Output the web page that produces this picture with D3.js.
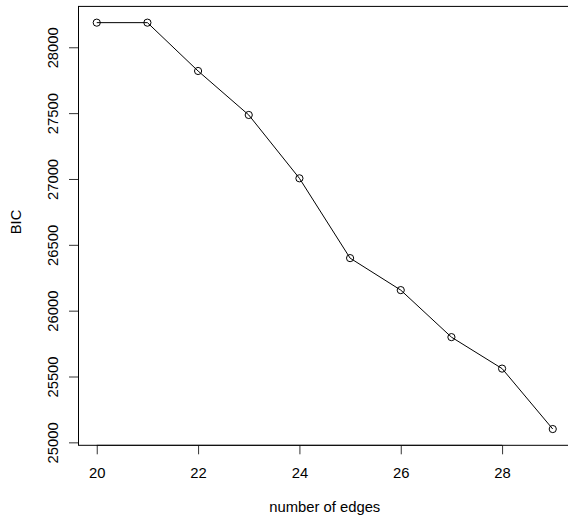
<!DOCTYPE html>
<html>
<head>
<meta charset="utf-8">
<script src="https://cdn.jsdelivr.net/npm/d3@7"></script>
<style>
  html, body { margin: 0; padding: 0; background: #fff; overflow: hidden; }
  svg { display: block; }
  text { font-family: "Liberation Sans", Arial, Helvetica, sans-serif; fill: #000; }
</style>
</head>
<body>
<script>
// BIC by number of edges
const edges = [20, 21, 22, 23, 24, 25, 26, 27, 28, 29];
const bic = [28187, 28187, 27820, 27486, 27005, 26399, 26156, 25799, 25560, 25101];
const xTicks = [20, 22, 24, 26, 28];
const yTicks = [25000, 25500, 26000, 26500, 27000, 27500, 28000];
const xLabel = "number of edges";
const yLabel = "BIC";

const W = 568, H = 523;
const plot = { left: 78.5, right: 571, top: 6.4, bottom: 445.3 };

// Base-graphics style range: data extent padded by 4% on each side
function padded(vals) {
  const [lo, hi] = d3.extent(vals);
  const d = (hi - lo) * 0.04;
  return [lo - d, hi + d];
}

const x = d3.scaleLinear().domain(padded(edges)).range([plot.left, plot.right]);
const y = d3.scaleLinear().domain(padded(bic)).range([plot.bottom, plot.top]);

const svg = d3.select("body").append("svg").attr("width", W).attr("height", H);

const fs = 14.8;

// x axis
const xAxis = svg.append("g").attr("transform", `translate(0,${plot.bottom})`)
  .call(d3.axisBottom(x).tickValues(xTicks).tickSize(9).tickPadding(13.5).tickFormat(d3.format("d")));
// y axis (labels rotated, as in base graphics)
const yAxis = svg.append("g").attr("transform", `translate(${plot.left},0)`)
  .call(d3.axisLeft(y).tickValues(yTicks).tickSize(9.5).tickFormat(d3.format("d")));

[xAxis, yAxis].forEach(g => {
  g.select(".domain").remove();
  g.selectAll(".tick line").attr("stroke", "#333").attr("stroke-width", 1);
  g.selectAll(".tick text").style("font-size", fs + "px").attr("fill", "#000");
});
xAxis.selectAll(".tick text").attr("dy", "0.71em");
yAxis.selectAll(".tick text")
  .attr("x", null)
  .attr("text-anchor", "middle")
  .attr("transform", "translate(-26,0) rotate(-90)")
  .attr("dy", "0.36em");

// axis lines spanning first to last tick
svg.append("line")
  .attr("x1", x(xTicks[0])).attr("x2", x(xTicks[xTicks.length - 1]))
  .attr("y1", plot.bottom).attr("y2", plot.bottom)
  .attr("stroke", "#333").attr("stroke-width", 1);
svg.append("line")
  .attr("x1", plot.left).attr("x2", plot.left)
  .attr("y1", y(yTicks[0])).attr("y2", y(yTicks[yTicks.length - 1]))
  .attr("stroke", "#333").attr("stroke-width", 1);

// plot box
svg.append("rect")
  .attr("x", plot.left).attr("y", plot.top)
  .attr("width", plot.right - plot.left).attr("height", plot.bottom - plot.top)
  .attr("fill", "none").attr("stroke", "#000").attr("stroke-width", 1);

// series line
const pts = edges.map((e, i) => [e, bic[i]]);
svg.append("path")
  .datum(pts)
  .attr("fill", "none").attr("stroke", "#000").attr("stroke-width", 1)
  .attr("d", d3.line().x(d => x(d[0])).y(d => y(d[1])));

// open circle markers
svg.append("g").selectAll("circle").data(pts).join("circle")
  .attr("cx", d => x(d[0])).attr("cy", d => y(d[1])).attr("r", 3.6)
  .attr("fill", "none").attr("stroke", "#000").attr("stroke-width", 1);

// axis titles
svg.append("text")
  .attr("x", (plot.left + plot.right) / 2).attr("y", 512)
  .attr("text-anchor", "middle").style("font-size", fs + "px")
  .text(xLabel);
svg.append("text")
  .attr("transform", `translate(21,222) rotate(-90)`)
  .attr("text-anchor", "middle").style("font-size", fs + "px")
  .text(yLabel);
</script>
</body>
</html>
